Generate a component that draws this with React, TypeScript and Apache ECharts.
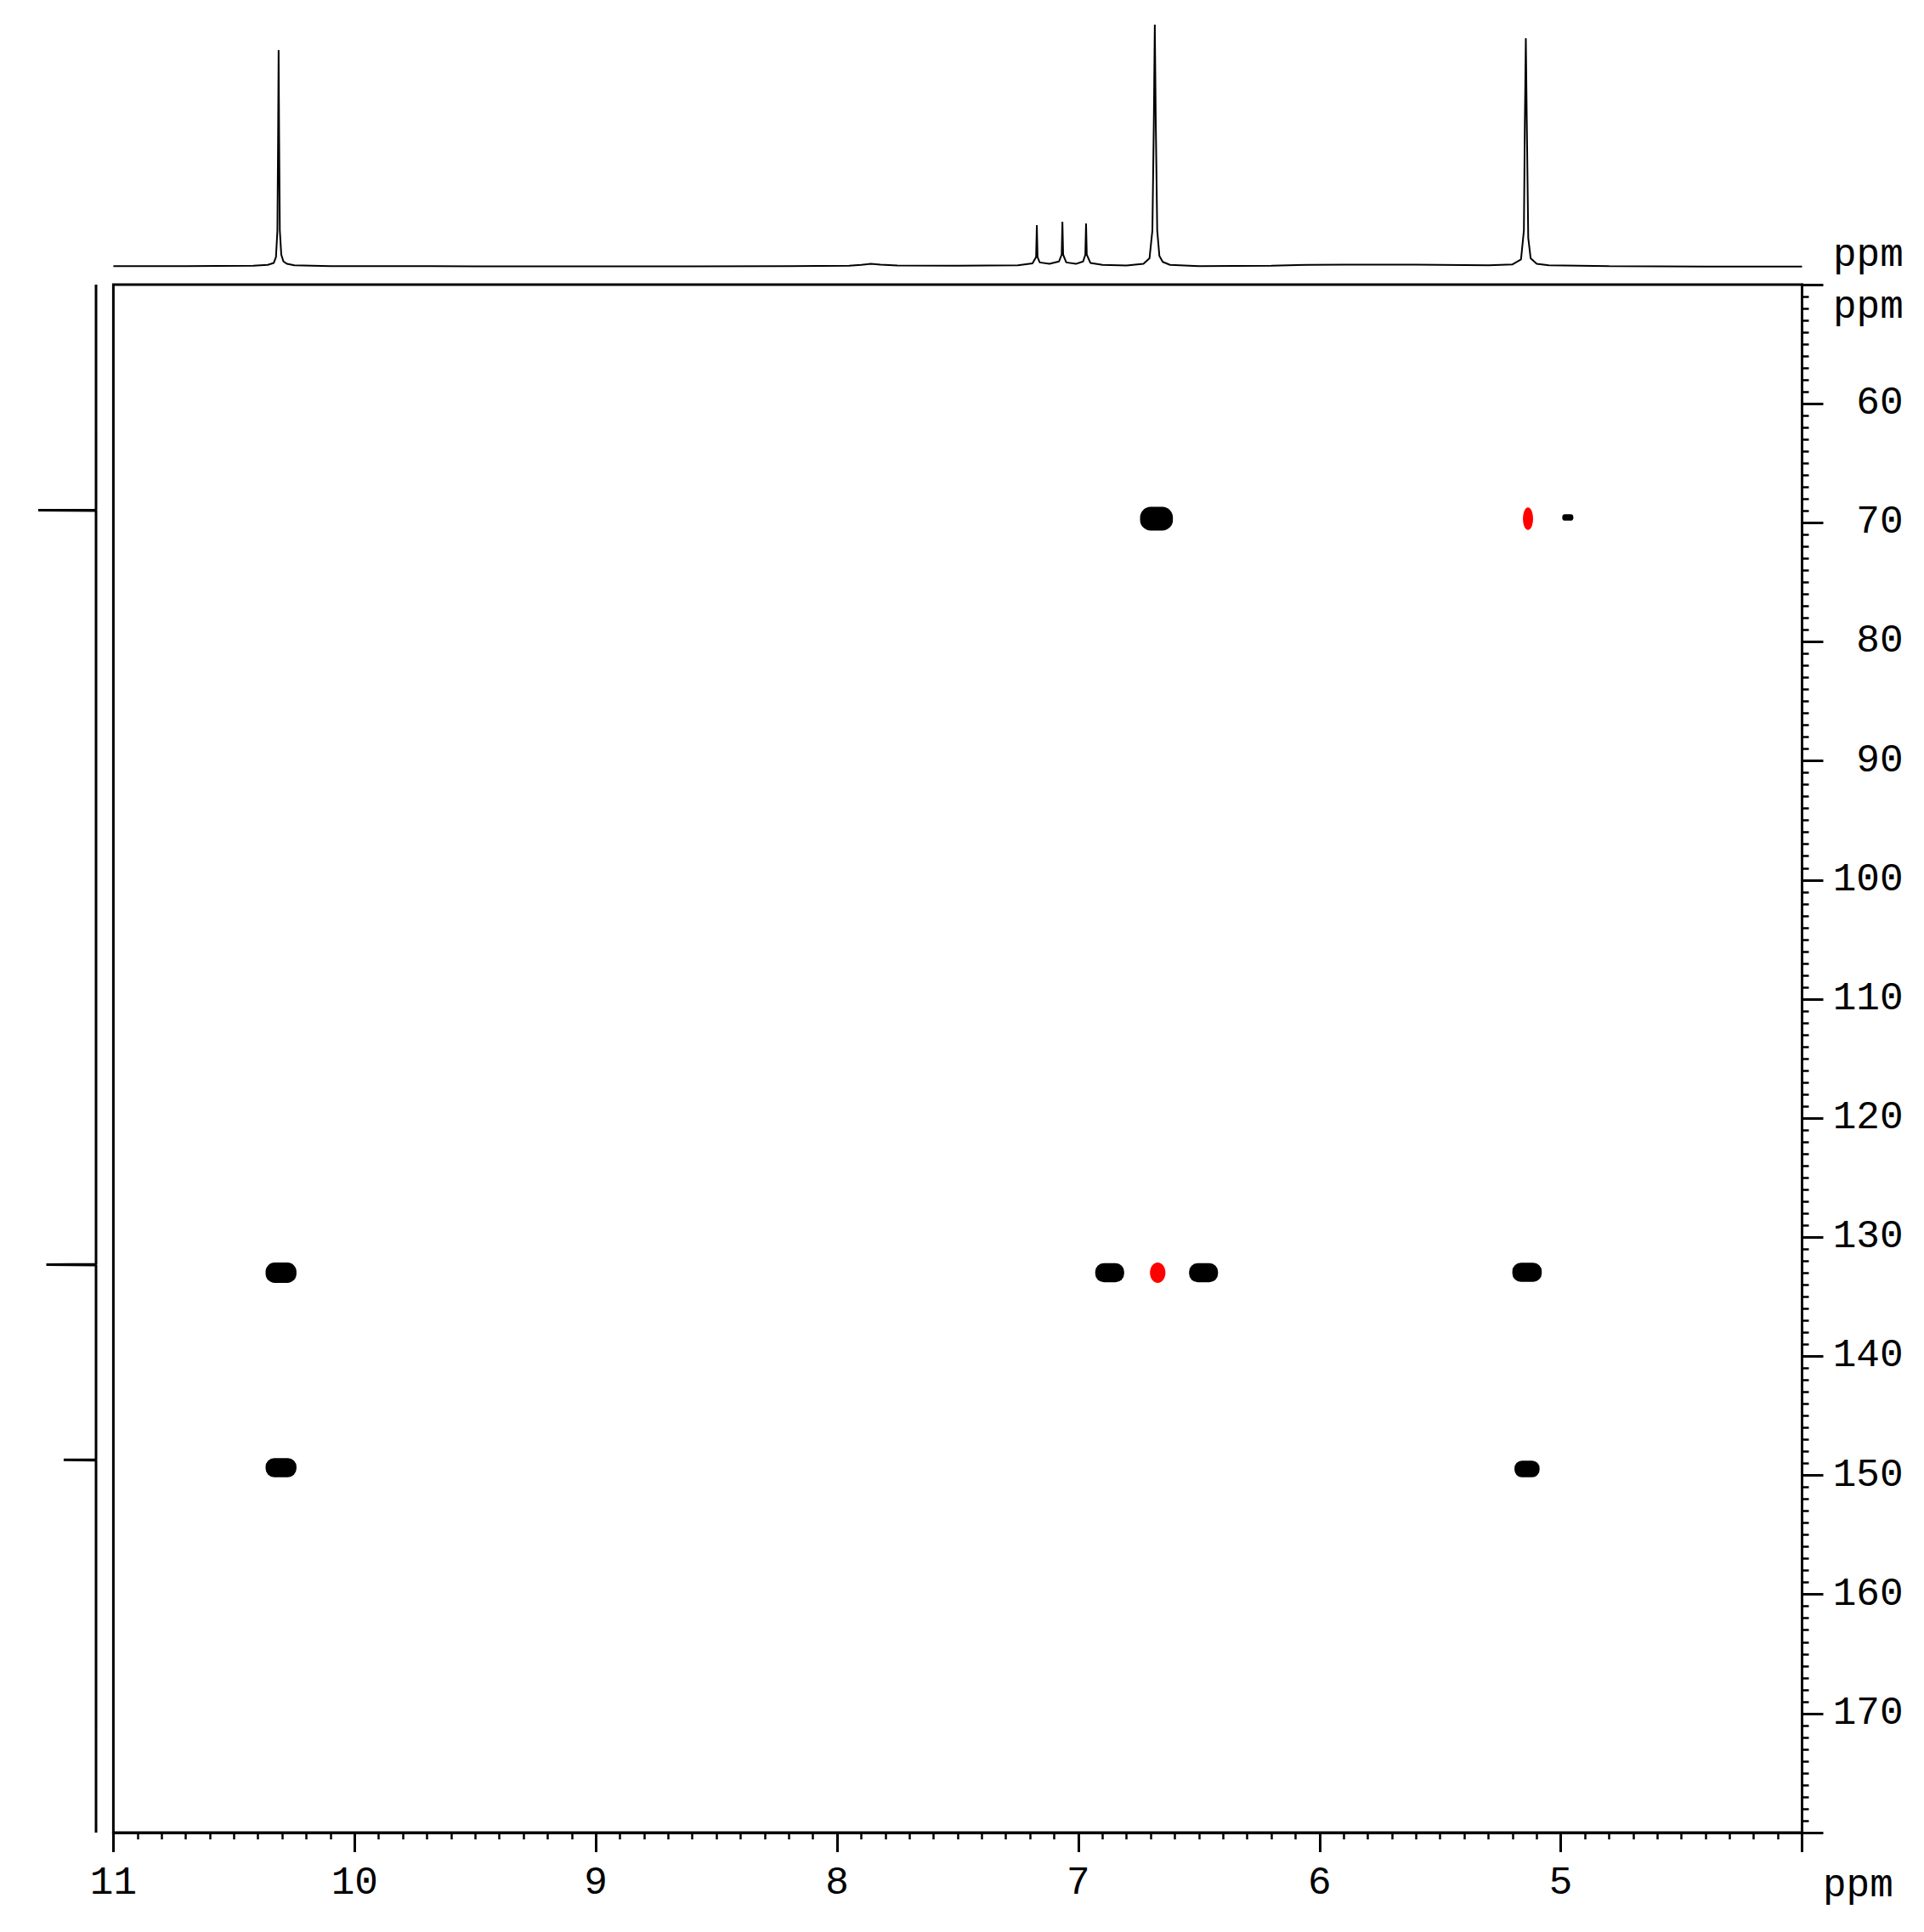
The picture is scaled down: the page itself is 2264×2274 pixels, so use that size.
import React, { useEffect, useRef } from "react";
import * as echarts from "echarts";

// 1H projection (top trace): chemical shift (ppm) and relative intensity
const protonPpm = [
  11.0, 10.7, 10.42, 10.36, 10.335, 10.326, 10.32, 10.317, 10.315, 10.313, 10.31, 10.304, 10.295, 10.28, 10.25, 10.1,
  9.5, 8.6, 8.2, 7.95, 7.9, 7.86, 7.82, 7.75, 7.5, 7.25, 7.19, 7.175, 7.172, 7.169, 7.16, 7.12, 7.08, 7.069, 7.066,
  7.063, 7.05, 7.01, 6.98, 6.971, 6.968, 6.965, 6.95, 6.9, 6.8, 6.73, 6.705, 6.693, 6.687, 6.683, 6.679, 6.673,
  6.664, 6.65, 6.62, 6.5, 6.2, 6.05, 5.9, 5.6, 5.4, 5.3, 5.2, 5.165, 5.153, 5.149, 5.145, 5.141, 5.135, 5.125, 5.1,
  5.05, 4.8, 4.4, 4.0,
];
const protonInt = [
  0.003, 0.003, 0.004, 0.008, 0.016, 0.04, 0.15, 0.55, 0.895, 0.55, 0.15, 0.05, 0.022, 0.012, 0.006, 0.003,
  0.002, 0.002, 0.003, 0.004, 0.008, 0.012, 0.009, 0.005, 0.004, 0.006, 0.014, 0.04, 0.172, 0.04, 0.018, 0.012, 0.022,
  0.05, 0.186, 0.05, 0.018, 0.012, 0.022, 0.05, 0.179, 0.05, 0.016, 0.008, 0.005, 0.012, 0.035, 0.15, 0.6, 1.0, 0.6,
  0.15, 0.045, 0.02, 0.008, 0.003, 0.004, 0.008, 0.009, 0.009, 0.007, 0.006, 0.01, 0.03, 0.15, 0.6, 0.944, 0.6, 0.12,
  0.035, 0.012, 0.006, 0.003, 0.001, 0.001,
];

// 13C projection (left trace): chemical shift (ppm) and relative intensity
const carbonPpm = [50, 68.92, 68.95, 68.98, 132.27, 132.3, 132.33, 148.67, 148.7, 148.73, 180];
const carbonInt = [0, 0, 1.0, 0, 0, 0.86, 0, 0, 0.56, 0, 0];

// Positive cross peaks (black): 1H ppm, 13C ppm, half-width in 1H ppm, half-width in 13C ppm
const posH = [6.676, 10.305, 10.305, 6.87, 6.481, 5.14, 5.14, 4.971];
const posC = [69.66, 132.98, 149.35, 132.98, 132.98, 132.95, 149.46, 69.55];
const posHalfH = [0.068, 0.064, 0.064, 0.06, 0.06, 0.061, 0.052, 0.023];
const posHalfC = [1.0, 0.85, 0.8, 0.8, 0.8, 0.8, 0.7, 0.27];

// Negative cross peaks (red)
const negH = [6.671, 5.136];
const negC = [132.98, 69.66];
const negHalfH = [0.032, 0.021];
const negHalfC = [0.85, 0.95];

// Axes
const xTickMin = 4;
const xTickMax = 11;
const yTickMin = 50;
const yTickMax = 180;

const FONT = "'Liberation Mono', 'DejaVu Sans Mono', monospace";

export default function App() {
  const ref = useRef<HTMLDivElement>(null);

  useEffect(() => {
    if (!ref.current) return;
    const chart = echarts.init(ref.current, undefined, { renderer: "svg" });

    const protonData = protonPpm.map((p, i) => [p, protonInt[i]]);
    const carbonData = carbonPpm.map((p, i) => [carbonInt[i], p]);
    const posData = posH.map((h, i) => [h, posC[i], posHalfH[i], posHalfC[i]]);
    const negData = negH.map((h, i) => [h, negC[i], negHalfH[i], negHalfC[i]]);

    const gridL = 133.4;
    const gridR = 2264 - 2120.5;
    const mainTop = 335;
    const mainH = 1822;

    const makeBlob = (color: string, rounded: boolean) => (params: any, api: any) => {
      const c = api.coord([api.value(0), api.value(1)]);
      const s = api.size([2 * api.value(2), 2 * api.value(3)]);
      const w = Math.abs(s[0]);
      const h = Math.abs(s[1]);
      if (rounded) {
        return {
          type: "rect",
          shape: { x: c[0] - w / 2, y: c[1] - h / 2, width: w, height: h, r: Math.min(w, h) * 0.45 },
          style: { fill: color },
        };
      }
      return {
        type: "ellipse",
        shape: { cx: c[0], cy: c[1], rx: w / 2, ry: h / 2 },
        style: { fill: color },
      };
    };

    chart.setOption({
      animation: false,
      backgroundColor: "#ffffff",
      grid: [
        { left: gridL, right: gridR, top: mainTop, height: mainH, show: true, borderColor: "#000", borderWidth: 3, backgroundColor: "transparent" },
        { left: gridL, right: gridR, top: 29, height: 285, show: false },
        { left: 45, width: 68, top: mainTop, height: mainH, show: false },
      ],
      xAxis: [
        {
          gridIndex: 0,
          type: "value",
          min: xTickMin,
          max: xTickMax,
          interval: 1,
          inverse: true,
          position: "bottom",
          axisLine: { show: true, lineStyle: { color: "#000", width: 3 } },
          axisTick: { show: true, length: 23, lineStyle: { color: "#000", width: 3 } },
          minorTick: { show: true, splitNumber: 10, length: 8, lineStyle: { color: "#000", width: 2.5 } },
          splitLine: { show: false },
          minorSplitLine: { show: false },
          axisLabel: {
            margin: 37,
            color: "#000",
            fontFamily: FONT,
            fontSize: 46,
            formatter: (v: number) => (v === xTickMin ? "" : String(v)),
          },
        },
        { gridIndex: 1, type: "value", min: xTickMin, max: xTickMax, inverse: true, show: false },
        { gridIndex: 2, type: "value", min: 0, max: 1, inverse: true, show: false },
      ],
      yAxis: [
        {
          gridIndex: 0,
          type: "value",
          min: yTickMin,
          max: yTickMax,
          interval: 10,
          inverse: true,
          position: "right",
          axisLine: { show: true, lineStyle: { color: "#000", width: 3 } },
          axisTick: { show: true, length: 25, lineStyle: { color: "#000", width: 3 } },
          minorTick: { show: true, splitNumber: 10, length: 8, lineStyle: { color: "#000", width: 2.5 } },
          splitLine: { show: false },
          minorSplitLine: { show: false },
          axisLabel: {
            margin: 119,
            align: "right",
            color: "#000",
            fontFamily: FONT,
            fontSize: 46,
            formatter: (v: number) => (v === yTickMin || v === yTickMax ? "" : String(v)),
          },
        },
        { gridIndex: 1, type: "value", min: 0, max: 1, show: false },
        { gridIndex: 2, type: "value", min: yTickMin, max: yTickMax, inverse: true, show: false },
      ],
      series: [
        {
          type: "line",
          xAxisIndex: 1,
          yAxisIndex: 1,
          data: protonData,
          showSymbol: false,
          silent: true,
          lineStyle: { color: "#000", width: 2 },
        },
        {
          type: "line",
          xAxisIndex: 2,
          yAxisIndex: 2,
          data: carbonData,
          showSymbol: false,
          silent: true,
          lineStyle: { color: "#000", width: 3 },
        },
        {
          type: "custom",
          xAxisIndex: 0,
          yAxisIndex: 0,
          data: posData,
          encode: { x: 0, y: 1 },
          silent: true,
          renderItem: makeBlob("#000000", true),
        },
        {
          type: "custom",
          xAxisIndex: 0,
          yAxisIndex: 0,
          data: negData,
          encode: { x: 0, y: 1 },
          silent: true,
          renderItem: makeBlob("#ff0000", false),
        },
      ],
      graphic: [
        { type: "text", left: 2157, top: 278, style: { text: "ppm", fill: "#000", font: `46px ${FONT}` } },
        { type: "text", left: 2157, top: 339, style: { text: "ppm", fill: "#000", font: `46px ${FONT}` } },
        { type: "text", left: 2145, top: 2197, style: { text: "ppm", fill: "#000", font: `46px ${FONT}` } },
      ],
    });

    return () => chart.dispose();
  }, []);

  return (
    <div
      ref={ref}
      style={{ position: "absolute", left: 0, top: 0, width: 2264, height: 2274, background: "#fff" }}
    />
  );
}
